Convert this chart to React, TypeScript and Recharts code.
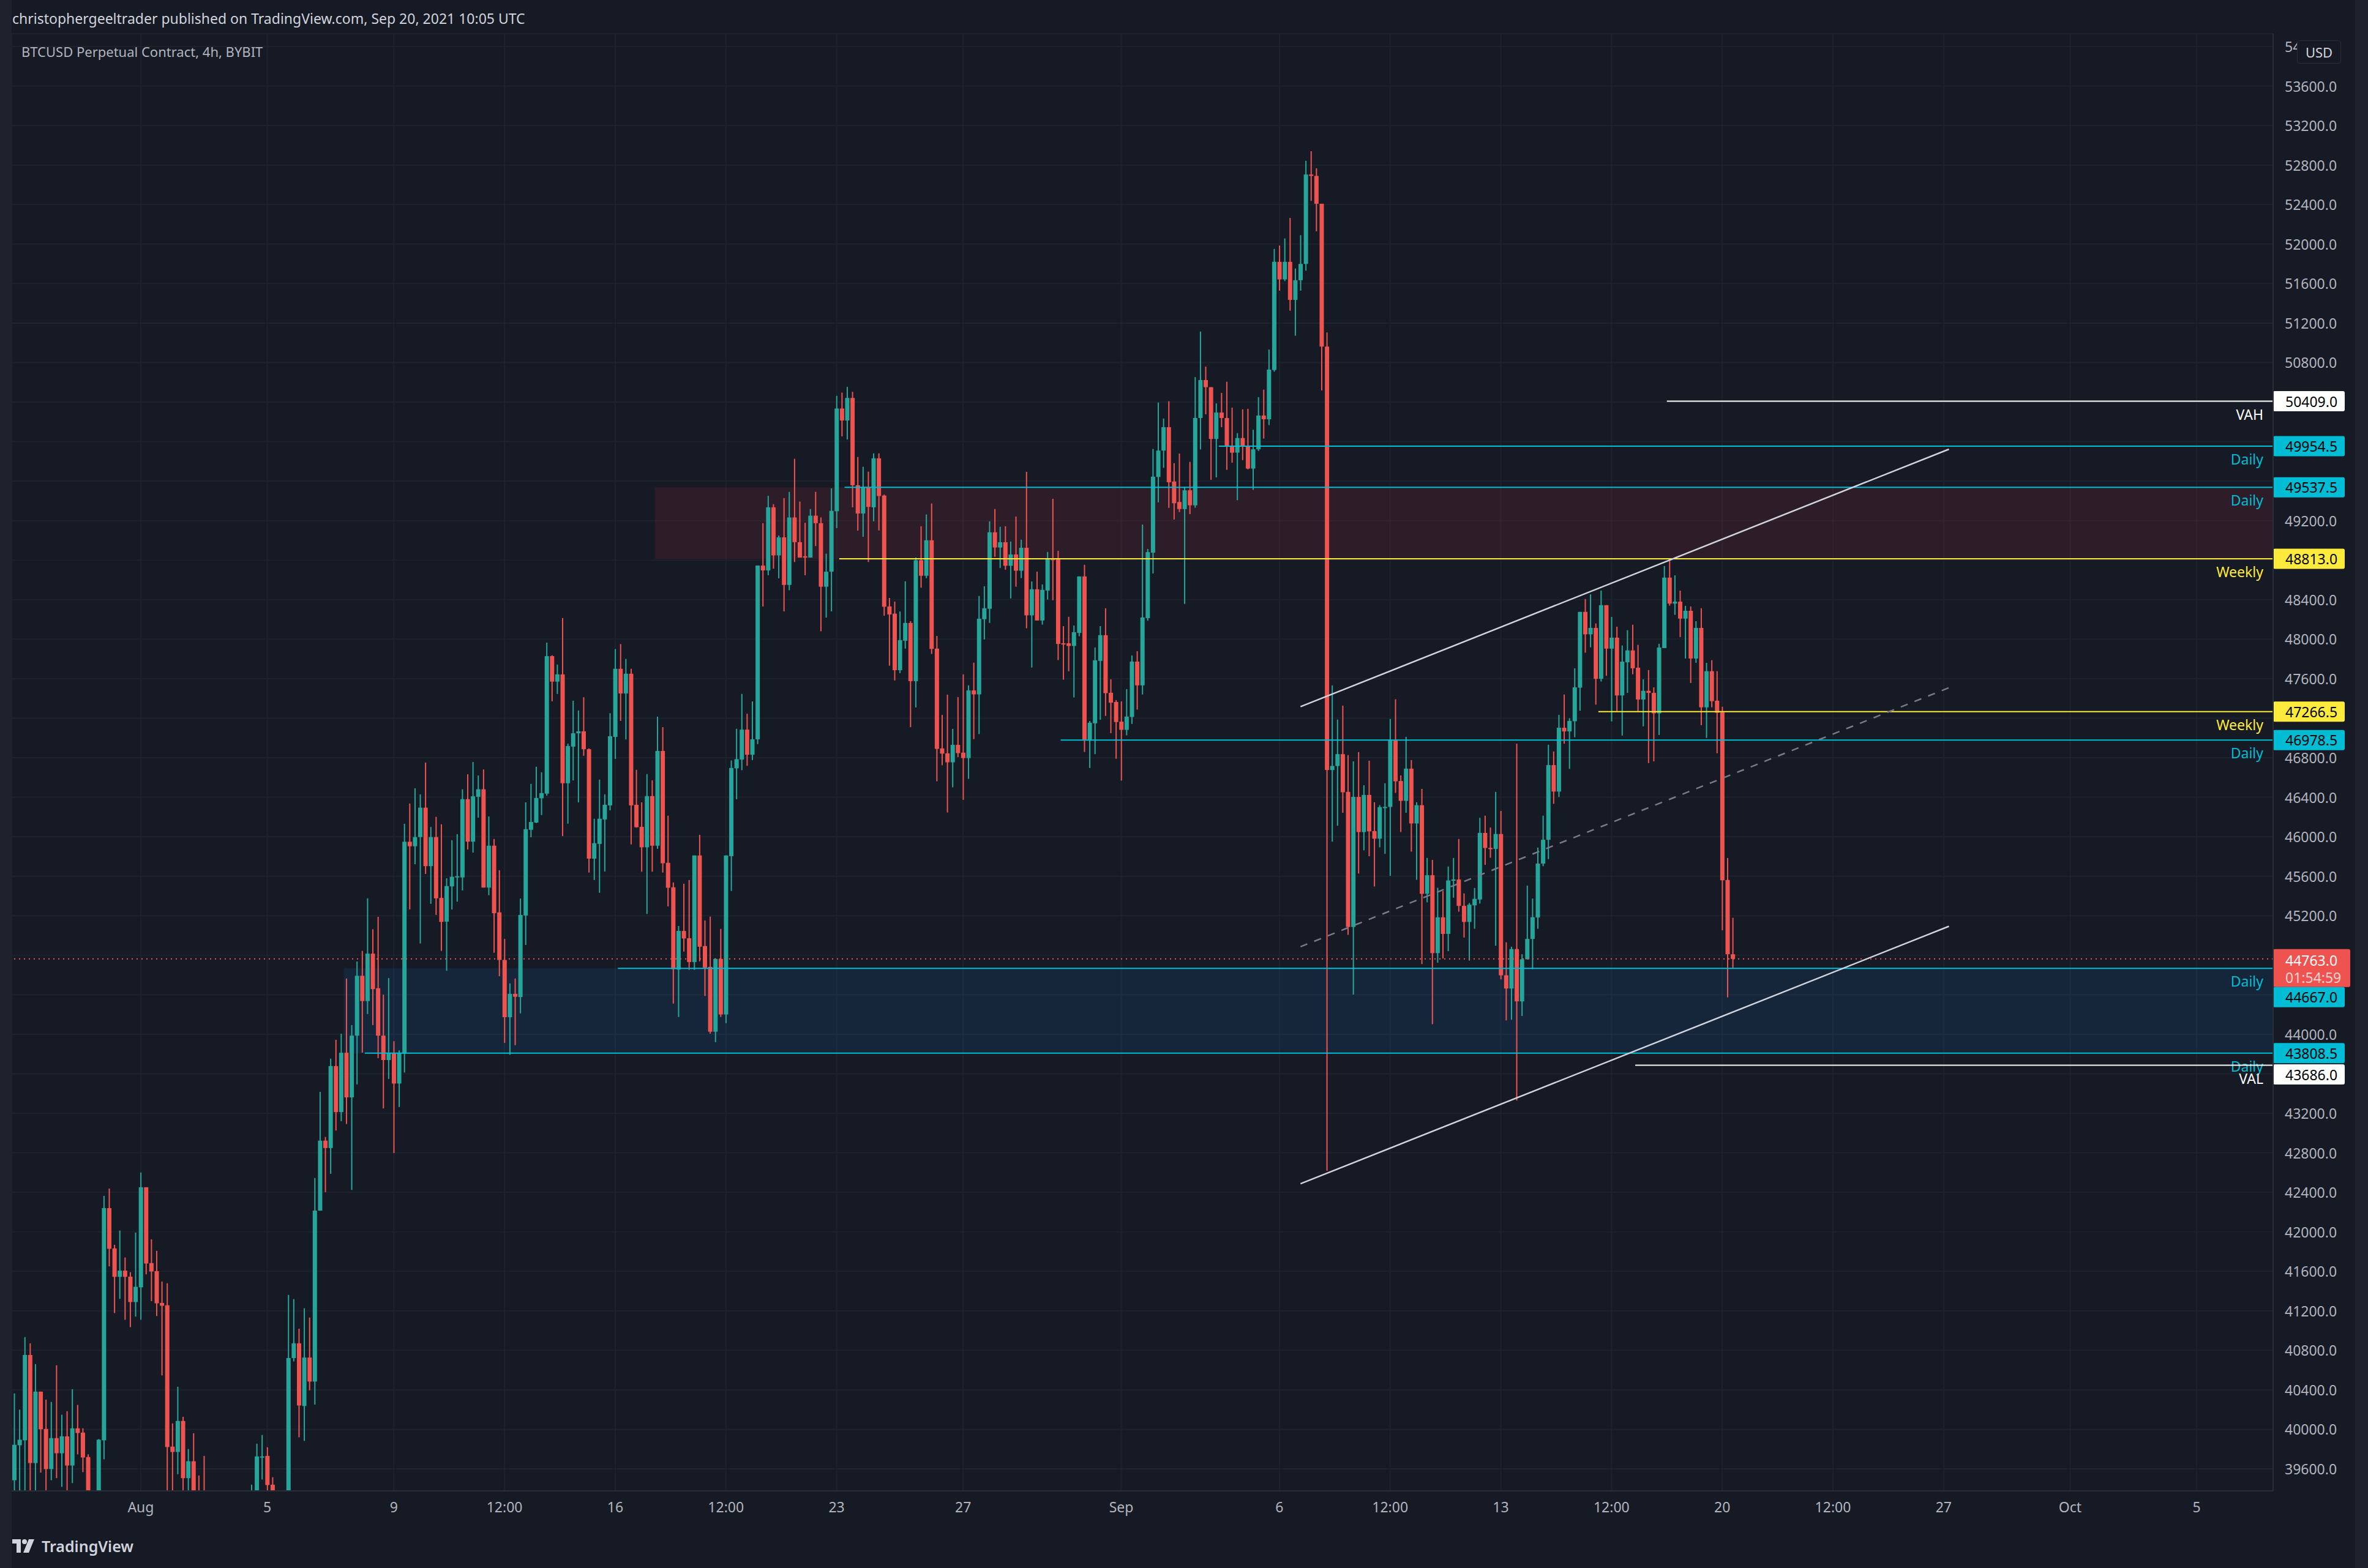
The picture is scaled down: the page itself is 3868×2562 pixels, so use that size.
import React from "react";
import { ComposedChart, Bar, XAxis, YAxis, CartesianGrid, ReferenceLine, ReferenceArea } from "recharts";

const W = 3868;
const H = 2562;
const FONT = "'Noto Sans', 'DejaVu Sans', sans-serif";
const BG = "#161a25";
const FRAME = "#1e222d";
const GRID = "#1e222d";
const AXIS_LINE = "#2a2e39";
const AXIS_TEXT = "#b2b5be";
const UP = "#26a69a";
const DOWN = "#ef5350";

type Candle = [number, number, number, number]; // open, high, low, close (4h bars from Jul 28 00:00 UTC)

const jul28: Candle[] = [
  [39485, 40364, 39300, 39844], [39839, 40199, 39250, 39895], [39889, 40934, 39300, 40753], [40753, 40871, 39250, 39659], [39659, 40661, 39300, 40382], [40382, 40382, 39562, 40001],
  [40004, 40301, 39300, 39598], [39598, 40278, 39485, 39911], [39911, 40648, 39506, 39758], [39758, 40148, 39418, 39929], [39929, 40184, 39300, 39634], [39634, 40407, 39456, 40010],
  [40010, 40247, 39747, 39963], [39967, 40010, 39567, 39715], [39720, 39747, 39100, 39200], [39200, 39350, 38950, 39250], [39250, 39902, 39150, 39895], [39889, 42364, 39697, 42240],
  [42240, 42438, 41650, 41828], [41832, 41868, 41177, 41544], [41544, 42012, 41321, 41607], [41607, 41740, 41109, 41544], [41546, 41591, 41035, 41289], [41289, 41992, 41141, 41443],
  [41438, 42600, 41109, 42451], [42451, 42451, 41569, 41679], [41683, 41924, 41298, 41598], [41602, 41807, 41147, 41276], [41280, 41497, 40546, 41251], [41256, 41479, 39300, 39821],
  [39825, 40060, 39300, 39771], [39771, 40431, 39546, 40085], [40085, 40127, 39300, 39506], [39506, 39801, 39300, 39677], [39677, 39961, 39000, 39200], [39250, 39533, 38800, 38950],
  [38950, 39731, 38700, 38850], [38850, 39100, 38300, 38500], [38500, 38900, 38100, 38700], [38700, 39000, 38200, 38300], [38300, 38600, 37600, 37900], [37900, 38300, 37500, 38100],
];

const aug04: Candle[] = [
  [38100, 38800, 37900, 38600], [38600, 39200, 38400, 38900], [38900, 39300, 38600, 39000], [39000, 39440, 38600, 39200], [39200, 39855, 38900, 39726], [39720, 39943, 39492, 39726],
  [39731, 39819, 39350, 39436], [39440, 39515, 39000, 39250], [39250, 39300, 38200, 38400], [38400, 38900, 37400, 38700], [38700, 41361, 38500, 40722], [40722, 41319, 40688, 40871],
  [40871, 41019, 39920, 40242], [40237, 41226, 39883, 40727], [40727, 41132, 40395, 40484], [40484, 42545, 40251, 42214], [42214, 43417, 42214, 42923], [42923, 42960, 42401, 42848],
  [42848, 43753, 42587, 43678], [43678, 43944, 43025, 43212], [43212, 44005, 43119, 43813], [43813, 44564, 43091, 43361], [43361, 44093, 42424, 43986], [43986, 44737, 43492, 44592],
  [44592, 44844, 43814, 44336], [44336, 45376, 44205, 44816], [44816, 45063, 44093, 44457], [44466, 45189, 43758, 43986], [43986, 44401, 43249, 43739], [43739, 44569, 43548, 43813],
  [43813, 43930, 42797, 43501], [43501, 43837, 43263, 43813], [43804, 46131, 43613, 45949], [45949, 46336, 45264, 45903], [45903, 46490, 45721, 45996], [45996, 46429, 44919, 46294],
  [46294, 46750, 45623, 45702], [45702, 46098, 45320, 45996], [45996, 46201, 45208, 45376], [45380, 46126, 44844, 45138], [45140, 45579, 44643, 45500], [45497, 45965, 45263, 45594],
];

const aug11: Candle[] = [
  [45594, 46026, 45342, 45600], [45588, 46480, 45456, 46380], [46380, 46632, 45871, 45950], [45950, 46757, 45839, 46409], [46404, 46620, 46193, 46480], [46480, 46681, 45485, 45485],
  [45485, 46205, 45407, 45909], [45909, 45977, 44825, 45225], [45234, 45661, 44588, 44752], [44752, 44965, 43912, 44173], [44173, 44515, 43793, 44409], [44409, 44564, 43889, 44380],
  [44377, 45374, 44211, 45208], [45202, 46348, 44904, 46076], [46070, 46535, 45994, 46149], [46143, 46708, 46138, 46392], [46389, 46652, 46219, 46442], [46436, 47965, 46415, 47828],
  [47828, 47837, 47371, 47570], [47570, 47743, 47445, 47643], [47643, 48214, 46006, 46541], [46541, 46942, 46132, 46918], [46912, 47377, 46570, 47047], [47047, 47278, 46348, 47067],
  [47067, 47412, 46819, 46886], [46886, 46894, 45637, 45778], [45778, 46182, 45562, 45934], [45927, 46578, 45432, 46182], [46175, 46429, 45648, 46323], [46317, 47250, 46267, 47017],
  [47010, 47900, 46787, 47700], [47700, 47950, 47172, 47450], [47450, 47800, 46985, 47650], [47650, 47700, 45922, 46317], [46323, 46677, 46092, 46096], [46100, 46348, 45646, 45893],
  [45893, 46634, 45218, 46411], [46411, 46571, 45646, 45909], [45909, 47215, 45877, 46868], [46868, 47109, 45637, 45731], [45736, 46213, 45294, 45483], [45488, 45537, 44310, 44659],
];

const aug18: Candle[] = [
  [44655, 45096, 44175, 45046], [45046, 45524, 44837, 44970], [44972, 45562, 44652, 44731], [44731, 45810, 44652, 45810], [45810, 46019, 44738, 44886], [44893, 45152, 44387, 44675],
  [44682, 45191, 44006, 44026], [44026, 44769, 43920, 44763], [44763, 45067, 44175, 44200], [44200, 45810, 44112, 45810], [45803, 46772, 45450, 46696], [46692, 47093, 46379, 46785],
  [46781, 47446, 46673, 47084], [47084, 47245, 46718, 46830], [46830, 47370, 46776, 46986], [46986, 48745, 46937, 48745], [48745, 49174, 48330, 48696], [48696, 49451, 48647, 49335],
  [49335, 49366, 48714, 48848], [48848, 49049, 48616, 49031], [49031, 49428, 48281, 48549], [48549, 49491, 48495, 49232], [49232, 49826, 48781, 48982], [48982, 49393, 48826, 48826],
  [48839, 49178, 48647, 48826], [48826, 49317, 48826, 49250], [49250, 49491, 48942, 49174], [49174, 49232, 48080, 48531], [48531, 48866, 48218, 48683], [48683, 49527, 48281, 49299],
  [49295, 50464, 49125, 50335], [50335, 50496, 50053, 50214], [50214, 50554, 50022, 50442], [50442, 50504, 49335, 49558], [49558, 49844, 49098, 49272], [49272, 49745, 49036, 49540],
  [49540, 49696, 48781, 49339], [49335, 49881, 49193, 49831], [49831, 49881, 49100, 49449], [49454, 49464, 48237, 48328], [48331, 48417, 47731, 48250], [48258, 48381, 47582, 47686],
];

const aug25: Candle[] = [
  [47686, 48280, 47656, 47990], [47984, 48586, 47904, 48164], [48164, 48182, 47109, 47575], [47575, 48827, 47309, 48799], [48799, 49143, 48521, 48642], [48642, 49262, 48617, 49001],
  [49001, 49373, 47850, 47901], [47904, 48032, 46561, 46889], [46894, 47233, 46723, 46841], [46844, 47438, 46245, 46753], [46753, 47092, 46500, 46930], [46930, 47413, 46806, 46846],
  [46851, 47643, 46373, 46796], [46796, 47532, 46586, 47481], [47481, 47762, 46988, 47441], [47441, 48437, 47039, 48207], [48202, 48536, 47997, 48313], [48308, 49193, 48164, 49082],
  [49082, 49317, 48834, 48928], [48928, 49138, 48720, 48981], [48981, 49143, 48703, 48743], [48743, 48988, 48412, 48857], [48857, 49241, 48531, 48693], [48693, 49007, 48618, 48925],
  [48925, 49694, 48110, 48241], [48241, 48584, 47713, 48505], [48505, 48684, 48189, 48189], [48189, 48554, 48147, 48499], [48492, 48883, 48401, 48812], [48812, 49421, 48394, 48800],
  [48808, 48894, 47788, 47952], [47958, 48132, 47590, 47952], [47958, 48226, 47675, 47931], [47931, 48138, 47410, 48070], [48063, 48635, 48029, 48635], [48635, 48753, 46858, 46982],
  [46982, 47171, 46696, 47154], [47148, 47916, 46836, 47786], [47780, 48132, 47184, 48040], [48040, 48313, 47223, 47453], [47457, 47594, 47048, 47357], [47364, 47383, 46789, 47161],
];

const sep01: Candle[] = [
  [47165, 47370, 46568, 47082], [47082, 47494, 47026, 47216], [47212, 47835, 47142, 47773], [47773, 47878, 47287, 47532], [47532, 49160, 47440, 48219], [48213, 48913, 48187, 48881],
  [48876, 49926, 48665, 49645], [49642, 50395, 49385, 49909], [49909, 50234, 49735, 50146], [50146, 50408, 49329, 49588], [49596, 49782, 49211, 49376], [49389, 49879, 49287, 49317],
  [49317, 49541, 48357, 49507], [49507, 49795, 49266, 49355], [49355, 50653, 49330, 50239], [50239, 51114, 49921, 50623], [50623, 50759, 50277, 50551], [50551, 50551, 49613, 50027],
  [50027, 50387, 49638, 50294], [50294, 50492, 50146, 50239], [50239, 50606, 49714, 49947], [49955, 50344, 49786, 49888], [49888, 50086, 49406, 50036], [50036, 50327, 49812, 49951],
  [49959, 50332, 49719, 49727], [49727, 50120, 49511, 49922], [49922, 50450, 49905, 50264], [50264, 50526, 50031, 50226], [50226, 50932, 50167, 50729], [50725, 51951, 50708, 51820],
  [51820, 51985, 51528, 51642], [51642, 52057, 51625, 51820], [51820, 52264, 51325, 51435], [51435, 51752, 51072, 51634], [51634, 52090, 51528, 51799], [51799, 52843, 51731, 52704],
  [52704, 52940, 52437, 52690], [52690, 52767, 52129, 52408], [52408, 52408, 50518, 50962], [50962, 51105, 42618, 46675], [46675, 47532, 45950, 46716], [46716, 47186, 46111, 46836],
];

const sep08: Candle[] = [
  [46836, 47327, 46242, 46450], [46454, 46826, 45006, 45086], [45086, 46763, 44401, 46403], [46403, 46857, 45627, 46047], [46047, 46521, 45862, 46423], [46423, 46769, 45802, 46054],
  [46057, 46349, 45496, 45980], [45980, 46319, 45893, 46299], [46299, 46541, 45826, 46302], [46302, 47192, 45604, 46981], [46981, 47391, 46443, 46561], [46564, 46621, 46047, 46363],
  [46363, 47011, 46242, 46689], [46689, 46776, 45849, 46134], [46134, 46349, 45563, 46319], [46319, 46484, 44710, 45422], [45422, 45785, 45335, 45610], [45610, 45765, 44102, 44821],
  [44821, 45483, 44724, 45184], [45184, 45449, 44767, 45016], [45016, 45698, 44841, 45557], [45557, 45785, 45382, 45567], [45567, 45977, 45241, 45300], [45300, 45426, 44979, 45137],
  [45137, 45329, 44745, 45312], [45305, 45481, 45068, 45371], [45364, 46192, 45323, 46038], [46038, 46213, 45715, 45886], [45886, 46093, 45787, 45880], [45876, 46454, 44896, 46027],
  [46027, 46261, 44556, 44597], [44597, 44931, 44140, 44463], [44463, 44886, 44147, 44862], [44862, 46942, 43329, 44333], [44333, 44810, 44185, 44759], [44759, 45505, 44759, 44965],
  [44965, 45374, 44659, 45185], [45182, 45890, 45068, 45728], [45728, 46213, 45701, 45969], [45969, 46931, 45773, 46725], [46725, 46863, 46333, 46457], [46457, 47234, 46402, 47103],
];

const sep15: Candle[] = [
  [47103, 47440, 46942, 47066], [47066, 47200, 46687, 47172], [47169, 47705, 47007, 47512], [47509, 48276, 47275, 48276], [48276, 48406, 47863, 48049], [48049, 48454, 47918, 48114],
  [48114, 48159, 47337, 47598], [47598, 48492, 47571, 48344], [48344, 48344, 47629, 47904], [47904, 48225, 47167, 48015], [48015, 48126, 47266, 47430], [47430, 47936, 47024, 47772],
  [47766, 48091, 47456, 47886], [47886, 48146, 47644, 47705], [47711, 47942, 47263, 47389], [47389, 47594, 47117, 47477], [47477, 47687, 46746, 47456], [47456, 47512, 46763, 47249],
  [47249, 47953, 47030, 47915], [47910, 48740, 47910, 48623], [48623, 48790, 48339, 48360], [48360, 48646, 48246, 48380], [48380, 48491, 48021, 48208], [48208, 48337, 47804, 48287],
  [48287, 48331, 47556, 47804], [47804, 48182, 47760, 48114], [48114, 48313, 47129, 47310], [47310, 47760, 47000, 47676], [47676, 47787, 47310, 47372], [47377, 47676, 46845, 47255],
  [47260, 47316, 45053, 45559], [45562, 45784, 44374, 44810], [44810, 45179, 44670, 44763],
];

const LAST_SLOT = 428; // empty 4h slots to the right, up to ~Oct 7

const timeTickSlots = [24, 48, 72, 93, 114, 135, 156, 180, 210, 240, 261, 282, 303, 324, 345, 366, 390, 414];
const timeTickLabels = ["Aug", "5", "9", "12:00", "16", "12:00", "23", "27", "Sep", "6", "12:00", "13", "12:00", "20", "12:00", "27", "Oct", "5"];

const priceTicks = [
  39600, 40000, 40400, 40800, 41200, 41600, 42000, 42400, 42800, 43200, 43600, 44000, 44400, 44800, 45200, 45600, 46000, 46400, 46800,
  47200, 47600, 48000, 48400, 48800, 49200, 49600, 50000, 50400, 50800, 51200, 51600, 52000, 52400, 52800, 53200, 53600, 54000,
];
// axis labels that sit under the level tags
const hiddenPriceTicks = [50400, 50000, 49600, 48800, 47200, 44800, 44400, 43600];

// horizontal levels drawn on the chart
const levelPrice = [50409.0, 49954.5, 49537.5, 48813.0, 47266.5, 46978.5, 44667.0, 43808.5, 43686.0];
const levelName = ["VAH", "Daily", "Daily", "Weekly", "Weekly", "Daily", "Daily", "Daily", "VAL"];
const levelFrom = [313, 228, 157, 156, 300, 198, 114, 66, 307];
const tagShift = [0, 0, 0, 0, 0, 0, 47, 0, 15];

// shaded zones
const zoneTop = [49537.5, 44667.0];
const zoneBottom = [48813.0, 43808.5];
const zoneFrom = [122, 63];
const zoneFill = ["rgba(242,54,69,0.10)", "rgba(33,150,243,0.10)"];

// rising channel
const channelSlots = [244, 367];
const channelUpper = [47317, 49923];
const channelMiddle = [44886, 47508];
const channelLower = [42487, 45093];

const lastPrice = 44763.0;
const barTimer = "01:54:59";

const candles: Candle[] = [...jul28, ...aug04, ...aug11, ...aug18, ...aug25, ...sep01, ...sep08, ...sep15];

const data = Array.from({ length: LAST_SLOT + 1 }, (_, i) => {
  const c = candles[i];
  if (!c) return { i };
  return { i, o: c[0], h: c[1], l: c[2], c: c[3], range: [c[2], c[1]] };
});

const levelColor: Record<string, string> = { VAH: "#ffffff", VAL: "#ffffff", Daily: "#00bcd4", Weekly: "#ffeb3b" };

function CandleShape(props: any) {
  const { x, y, width, height, payload } = props;
  if (!payload || payload.o == null || !height) return null;
  const { o, h, l, c } = payload;
  const k = height / (h - l);
  const yOf = (v: number) => y + (h - v) * k;
  const color = c >= o ? UP : DOWN;
  const cx = x + width / 2;
  const top = yOf(Math.max(o, c));
  const bot = yOf(Math.min(o, c));
  return (
    <g>
      <rect x={cx - 1} y={y} width={2} height={height} fill={color} />
      <rect x={x} y={top} width={width} height={Math.max(bot - top, 2)} fill={color} />
    </g>
  );
}

function LevelLabel(props: any) {
  const { viewBox, name, color, price, shift } = props;
  if (!viewBox) return null;
  const right = viewBox.x + viewBox.width;
  const y = viewBox.y;
  return (
    <g>
      <text x={right - 16} y={y + 21} textAnchor="end" dominantBaseline="central" fill={color} fontSize={23} fontFamily={FONT}>
        {name}
      </text>
      <rect x={right} y={y + shift - 16.5} width={117} height={33} rx={3} fill={color} />
      <text x={right + 20} y={y + shift} dominantBaseline="central" fill="#000000" fontSize={23} fontFamily={FONT}>
        {price.toFixed(1)}
      </text>
    </g>
  );
}

function PriceTag(props: any) {
  const { viewBox } = props;
  if (!viewBox) return null;
  const right = viewBox.x + viewBox.width;
  const y = viewBox.y;
  return (
    <g>
      <rect x={right} y={y - 16} width={126} height={62} rx={3} fill={DOWN} />
      <text x={right + 20} y={y + 2} dominantBaseline="central" fill="#ffffff" fontSize={23} fontFamily={FONT}>
        {lastPrice.toFixed(1)}
      </text>
      <text x={right + 20} y={y + 30} dominantBaseline="central" fill="rgba(255,255,255,0.75)" fontSize={23} fontFamily={FONT}>
        {barTimer}
      </text>
    </g>
  );
}

function PriceTick(props: any) {
  const { x, y, payload } = props;
  if (hiddenPriceTicks.includes(payload.value)) return null;
  return (
    <text x={x} y={y} dominantBaseline="central" fill={AXIS_TEXT} fontSize={23} fontFamily={FONT}>
      {payload.value.toFixed(1)}
    </text>
  );
}

function TimeTick(props: any) {
  const { x, y, payload } = props;
  const k = timeTickSlots.indexOf(payload.value);
  return (
    <text x={x} y={y} textAnchor="middle" dominantBaseline="central" fill={AXIS_TEXT} fontSize={23} fontFamily={FONT}>
      {timeTickLabels[k]}
    </text>
  );
}

export default function App() {
  return (
    <div style={{ position: "fixed", left: 0, top: 0, width: W, height: H, background: BG, fontFamily: FONT, overflow: "hidden" }}>
      <div style={{ position: "absolute", left: 0, top: 0, width: 19, height: H, background: FRAME }} />
      <div style={{ position: "absolute", right: 0, top: 0, width: 21, height: H, background: FRAME }} />
      <ComposedChart width={W} height={H} data={data} margin={{ top: 55, left: 19, right: 20, bottom: 72 }}>
        <XAxis
          dataKey="i"
          type="category"
          ticks={timeTickSlots}
          interval={0}
          height={54}
          tickLine={false}
          tickSize={0}
          tickMargin={26}
          axisLine={{ stroke: AXIS_LINE, strokeWidth: 2 }}
          tick={<TimeTick />}
        />
        <YAxis
          orientation="right"
          type="number"
          domain={[39377, 54130]}
          allowDataOverflow
          ticks={priceTicks}
          interval={0}
          width={135}
          tickLine={false}
          tickSize={0}
          tickMargin={19}
          axisLine={{ stroke: AXIS_LINE, strokeWidth: 2 }}
          tick={<PriceTick />}
        />
        <CartesianGrid stroke={GRID} strokeWidth={2} />
        {zoneTop.map((t, k) => (
          <ReferenceArea key={"z" + k} x1={zoneFrom[k]} y1={zoneBottom[k]} y2={t} fill={zoneFill[k]} fillOpacity={1} stroke="none" ifOverflow="hidden" zIndex={-50} />
        ))}
        <ReferenceLine y={lastPrice} stroke={DOWN} strokeWidth={2} strokeDasharray="2 6" label={<PriceTag />} />
        <Bar dataKey="range" barSize={7} shape={<CandleShape />} isAnimationActive={false} />
        {levelPrice.map((p, k) => (
          <ReferenceLine
            key={"l" + k}
            segment={[{ x: levelFrom[k], y: p }, { x: LAST_SLOT, y: p }]}
            position="end"
            stroke={levelColor[levelName[k]]}
            strokeWidth={2}
            label={<LevelLabel name={levelName[k]} color={levelColor[levelName[k]]} price={p} shift={tagShift[k]} />}
          />
        ))}
        <ReferenceLine segment={[{ x: channelSlots[0], y: channelUpper[0] }, { x: channelSlots[1], y: channelUpper[1] }]} stroke="#d1d4dc" strokeWidth={2.5} />
        <ReferenceLine segment={[{ x: channelSlots[0], y: channelMiddle[0] }, { x: channelSlots[1], y: channelMiddle[1] }]} stroke="#787b86" strokeWidth={2.5} strokeDasharray="12 12" />
        <ReferenceLine segment={[{ x: channelSlots[0], y: channelLower[0] }, { x: channelSlots[1], y: channelLower[1] }]} stroke="#d1d4dc" strokeWidth={2.5} />
      </ComposedChart>
      <div style={{ position: "absolute", left: 20, top: 16, fontSize: 23, lineHeight: "28px", color: "#d1d4dc", whiteSpace: "nowrap" }}>
        christophergeeltrader published on TradingView.com, Sep 20, 2021 10:05 UTC
      </div>
      <div style={{ position: "absolute", left: 35, top: 70, fontSize: 22, lineHeight: "28px", color: "#b2b5be", whiteSpace: "nowrap" }}>
        BTCUSD Perpetual Contract, 4h, BYBIT
      </div>
      <div
        style={{
          position: "absolute", left: 3752, top: 66, width: 70, height: 36, background: BG, border: "1px solid #2a2e39",
          borderRadius: 4, color: "#d1d4dc", fontSize: 22, lineHeight: "36px", textAlign: "center",
        }}
      >
        USD
      </div>
      <div style={{ position: "absolute", left: 20, top: 2512, display: "flex", alignItems: "center", gap: 12 }}>
        <svg width={36} height={26} viewBox="0 0 36 26">
          <path d="M0 2h14v22H7V9H0z" fill="#d1d4dc" />
          <circle cx={20} cy={6} r={4} fill="#d1d4dc" />
          <path d="M27 2h9l-9 22h-9z" fill="#d1d4dc" />
        </svg>
        <span style={{ color: "#d1d4dc", fontSize: 25, fontWeight: 600, lineHeight: "28px" }}>TradingView</span>
      </div>
    </div>
  );
}
